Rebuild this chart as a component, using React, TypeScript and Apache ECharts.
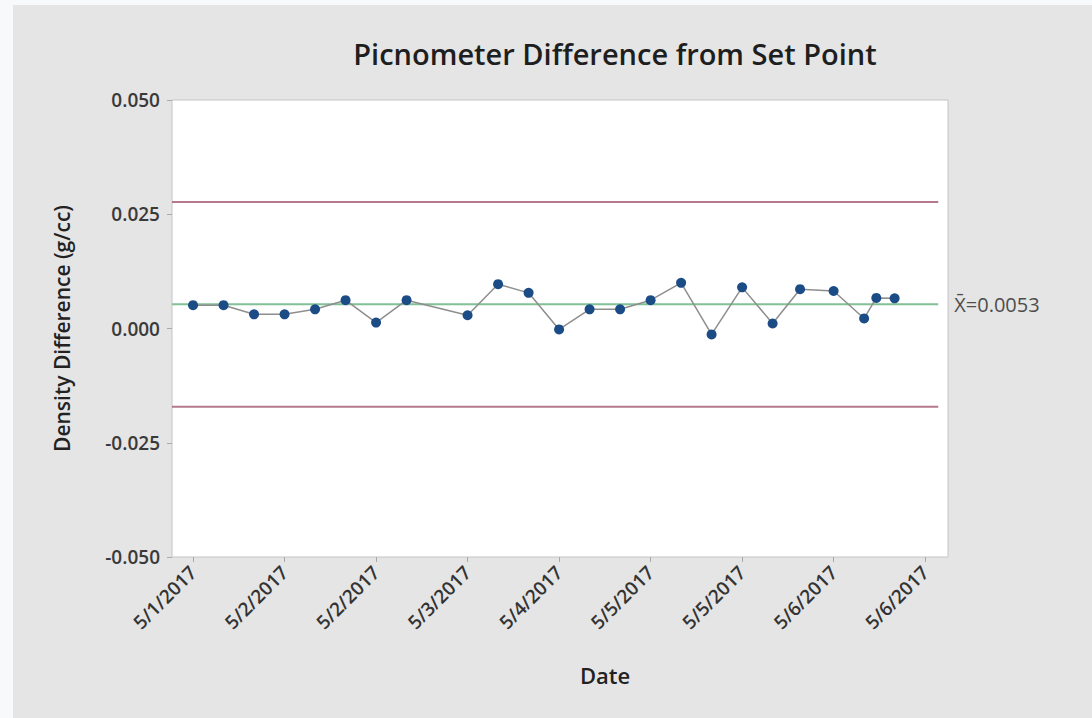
import React, { useEffect, useRef } from "react";
import * as echarts from "echarts";

// ---- data ----
const sampleX = [0, 1, 2, 3, 4, 5, 6, 7, 9, 10, 11, 12, 13, 14, 15, 16, 17, 18, 19, 19.9, 21, 22, 22.4, 23];
const densityDiff = [
  0.0051, 0.0051, 0.0031, 0.0031, 0.0042, 0.0062, 0.0013, 0.0062, 0.0029, 0.0097, 0.0078, -0.0002,
  0.0042, 0.0042, 0.0062, 0.0100, -0.0013, 0.0090, 0.0011, 0.0086, 0.0082, 0.0022, 0.0067, 0.0066,
];
const dateTickPositions = [0, 3, 6, 9, 12, 15, 18, 21, 24];
const dateTickLabels = [
  "5/1/2017", "5/2/2017", "5/2/2017", "5/3/2017", "5/4/2017",
  "5/5/2017", "5/5/2017", "5/6/2017", "5/6/2017",
];
const meanValue = 0.0053;
const uclValue = 0.0277;
const lclValue = -0.0171;
const limitLineSpan = [-0.69, 24.43];
const xRange = [-0.69, 24.75];
const yRange = [-0.05, 0.05];
const yInterval = 0.025;

const FONT = "'Open Sans', 'Noto Sans', sans-serif";

export default function App() {
  const ref = useRef<HTMLDivElement>(null);

  useEffect(() => {
    if (!ref.current) return;
    const chart = echarts.init(ref.current, undefined, { renderer: "svg" });

    const labelFor = (v: number) => {
      const i = dateTickPositions.findIndex((p) => Math.abs(p - v) < 1e-6);
      return i >= 0 ? dateTickLabels[i] : "";
    };

    const hline = (v: number) => limitLineSpan.map((x) => [x, v]);

    chart.setOption({
      animation: false,
      backgroundColor: "#e5e5e5",
      textStyle: { fontFamily: FONT },
      graphic: [
        {
          type: "text",
          x: 602,
          y: 48,
          style: {
            text: "Picnometer Difference from Set Point",
            fontSize: 29,
            fontWeight: 600,
            fontFamily: FONT,
            fill: "#1e1e1e",
            align: "center",
            verticalAlign: "middle",
          },
        },
        {
          type: "text",
          x: 592,
          y: 670,
          style: {
            text: "Date",
            fontSize: 22,
            fontWeight: 600,
            fontFamily: FONT,
            fill: "#222",
            align: "center",
            verticalAlign: "middle",
          },
        },
      ],
      grid: {
        left: 159,
        top: 95,
        width: 776,
        height: 457,
        show: true,
        backgroundColor: "#ffffff",
        borderColor: "#c4c4c4",
        borderWidth: 1,
      },
      xAxis: {
        type: "value",
        min: xRange[0],
        max: xRange[1],
        splitLine: { show: false },
        axisLine: { show: false, onZero: false },
        axisTick: {
          show: true,
          customValues: dateTickPositions,
          length: 5,
          lineStyle: { color: "#aaaaaa" },
        },
        axisLabel: {
          customValues: dateTickPositions,
          formatter: (v: number) => labelFor(v),
          rotate: 45,
          margin: 12,
          fontSize: 19,
          fontWeight: 600,
          color: "#333",
          fontFamily: FONT,
        },
      },
      yAxis: {
        type: "value",
        min: yRange[0],
        max: yRange[1],
        interval: yInterval,
        name: "Density Difference (g/cc)",
        nameLocation: "middle",
        nameGap: 100,
        nameTextStyle: { fontSize: 21, fontWeight: 600, color: "#222", fontFamily: FONT },
        splitLine: { show: false },
        axisLine: { show: false, onZero: false },
        axisTick: { show: true, length: 5, lineStyle: { color: "#aaaaaa" } },
        axisLabel: {
          formatter: (v: number) => v.toFixed(3),
          margin: 12,
          fontSize: 19,
          fontWeight: 600,
          color: "#3a3a3a",
          fontFamily: FONT,
        },
      },
      series: [
        {
          name: "UCL",
          type: "line",
          data: hline(uclValue),
          symbol: "none",
          silent: true,
          lineStyle: { color: "#b5788c", width: 2 },
          z: 1,
        },
        {
          name: "LCL",
          type: "line",
          data: hline(lclValue),
          symbol: "none",
          silent: true,
          lineStyle: { color: "#b5788c", width: 2 },
          z: 1,
        },
        {
          name: "Mean",
          type: "line",
          data: hline(meanValue),
          symbol: "none",
          silent: true,
          lineStyle: { color: "#82c096", width: 2 },
          endLabel: {
            show: true,
            distance: 16,
            formatter: () => "X\u0304=" + meanValue.toFixed(4),
            fontSize: 20,
            color: "#4d4d4d",
            fontFamily: FONT,
          },
          z: 1,
        },
        {
          name: "Difference",
          type: "line",
          data: sampleX.map((x, i) => [x, densityDiff[i]]),
          symbol: "circle",
          symbolSize: 10,
          itemStyle: { color: "#1c4c85" },
          lineStyle: { color: "#8e8e8e", width: 1.5 },
          z: 3,
        },
      ],
    });

    return () => chart.dispose();
  }, []);

  return (
    <div
      style={{
        position: "absolute",
        left: 0,
        top: 0,
        width: 1092,
        height: 718,
        background: "#f7f9fb",
        overflow: "hidden",
      }}
    >
      <div
        ref={ref}
        style={{ position: "absolute", left: 13, top: 5, width: 1079, height: 713 }}
      />
    </div>
  );
}
